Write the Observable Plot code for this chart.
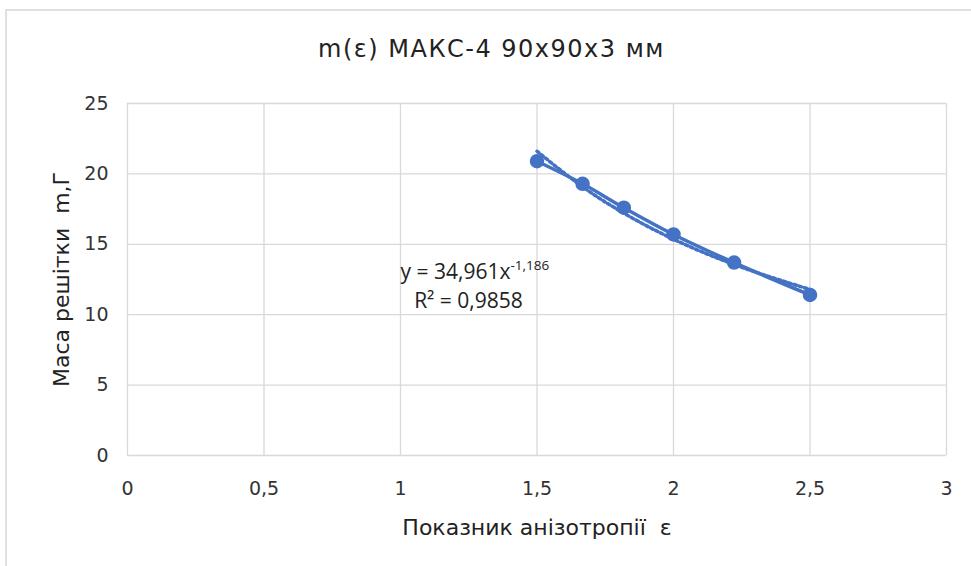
<!DOCTYPE html>
<html>
<head>
<meta charset="utf-8">
<script src="https://cdn.jsdelivr.net/npm/d3@7"></script>
<script src="https://cdn.jsdelivr.net/npm/@observablehq/plot@0.6"></script>
<style>
  html, body { margin: 0; padding: 0; background: #fff; }
  #wrap { position: relative; width: 971px; height: 566px; overflow: hidden; }
  #border { position: absolute; left: 5px; top: 9px; width: 980px; height: 600px;
            border-left: 2px solid #e0e0e0; border-top: 2px solid #e0e0e0; }
  #title { position: absolute; left: 0; top: 35px; width: 983px; text-align: center;
           font-family: "DejaVu Sans", sans-serif; font-size: 24px; letter-spacing: 1.5px; color: #222; }
  #chart { position: absolute; left: 0; top: 0; }
</style>
</head>
<body>
<div id="wrap">
  <div id="border"></div>
  <div id="chart"></div>
  <div id="title">m(ε) МАКС-4 90x90x3 мм</div>
</div>
<script>
const epsilon = [1.5, 1.667, 1.818, 2.0, 2.222, 2.5];
const mass = [20.9, 19.3, 17.6, 15.7, 13.7, 11.4];
const trendMass = [21.61, 19.08, 17.21, 15.36, 13.56, 11.79];
const xTicks = [0, 0.5, 1, 1.5, 2, 2.5, 3];
const yTicks = [0, 5, 10, 15, 20, 25];

const points = epsilon.map((e, i) => ({x: e, y: mass[i]}));
const trend = epsilon.map((e, i) => ({x: e, y: trendMass[i]}));
const fmt = d => String(d).replace(".", ",");
const blue = "#4472C4";
const font = "'DejaVu Sans', sans-serif";
const eqFont = "'Open Sans', Lato, sans-serif";

const chart = Plot.plot({
  width: 971,
  height: 566,
  marginLeft: 127,
  marginRight: 25,
  marginTop: 103,
  marginBottom: 111,
  style: {fontFamily: font, fontSize: "19px", color: "#333", background: "transparent"},
  x: {domain: [0, 3], label: null},
  y: {domain: [0, 25], label: null},
  marks: [
    Plot.gridX(xTicks, {stroke: "#d9d9d9", strokeOpacity: 1, strokeWidth: 1.3}),
    Plot.gridY(yTicks, {stroke: "#d9d9d9", strokeOpacity: 1, strokeWidth: 1.3}),
    Plot.axisX({ticks: xTicks, tickFormat: fmt, tickSize: 0, tickPadding: 26, fontSize: 19, label: null, fill: "#333"}),
    Plot.axisY({ticks: yTicks, tickFormat: fmt, tickSize: 0, tickPadding: 19, fontSize: 19, label: null, fill: "#333"}),
    Plot.line(trend, {x: "x", y: "y", stroke: blue, strokeWidth: 3.5, strokeDasharray: "2.5,3", curve: "catmull-rom"}),
    Plot.line(points, {x: "x", y: "y", stroke: blue, strokeWidth: 3.5, curve: "catmull-rom"}),
    Plot.dot(points, {x: "x", y: "y", r: 6.5, fill: blue, stroke: blue}),
    Plot.text(["y = 34,961x"], {x: 1.403, y: 13.0, textAnchor: "end", fontFamily: eqFont, fontSize: 21, fill: "#222"}),
    Plot.text(["-1,186"], {x: 1.403, y: 13.5, textAnchor: "start", fontFamily: eqFont, fontSize: 13.5, fill: "#222"}),
    Plot.text(["R² = 0,9858"], {x: 1.249, y: 10.94, textAnchor: "middle", fontFamily: eqFont, fontSize: 21, fill: "#222"}),
    Plot.text(["Маса решітки  m,Г"], {frameAnchor: "left", dx: -66, rotate: -90, textAnchor: "middle", lineAnchor: "middle", fontSize: 22, letterSpacing: "1.5px", fill: "#222"}),
    Plot.text(["Показник анізотропії  ε"], {frameAnchor: "bottom", dy: 72, textAnchor: "middle", lineAnchor: "middle", fontSize: 22, fill: "#222"})
  ]
});
document.getElementById("chart").appendChild(chart);
</script>
</body>
</html>
